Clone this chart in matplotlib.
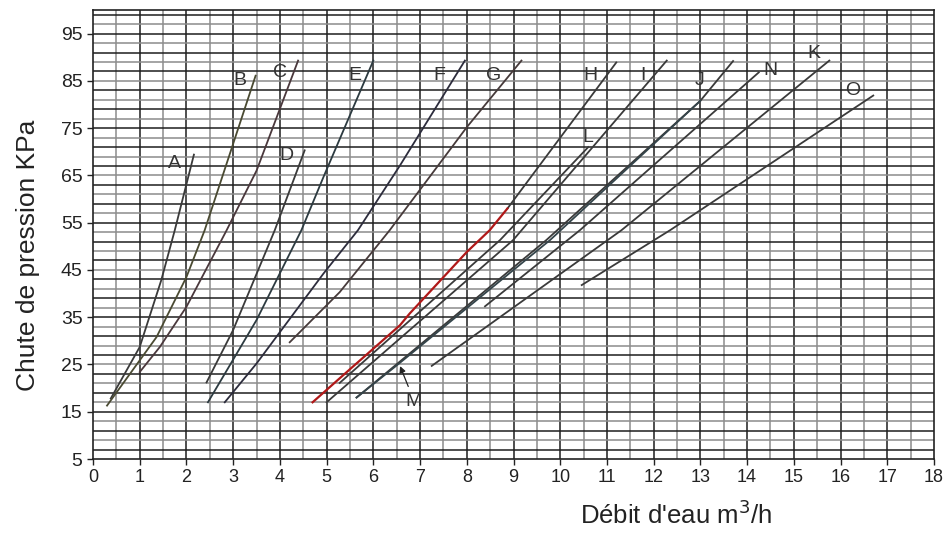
import numpy as np
import matplotlib.pyplot as plt

plt.rcParams['font.family'] = ['Liberation Sans', 'DejaVu Sans']

# courbes (débit m3/h, chute de pression kPa)
courbes = {
    "A": ([0.38, 1.0, 1.46, 1.75, 2.16], [17.8, 28.7, 42.8, 53.4, 69.4]),
    "B": ([0.30, 1.36, 2.0, 2.39, 3.0, 3.48], [16.3, 30.8, 43.5, 53.4, 71.7, 86.1]),
    "C": ([1.0, 1.43, 2.0, 2.86, 3.5, 4.39], [23.4, 28.7, 37.2, 53.4, 66.0, 89.3]),
    "D": ([2.43, 3.0, 3.89, 4.53], [21.2, 32.3, 53.4, 70.3]),
    "E": ([2.46, 3.5, 4.46, 4.93, 6.0], [17.0, 34.4, 53.4, 64.6, 89.3]),
    "F": ([2.82, 3.5, 4.93, 5.67, 6.57, 7.96], [17.0, 25.2, 44.2, 53.4, 67.1, 89.3]),
    "G": ([4.21, 5.28, 6.35, 8.0, 9.17], [29.7, 40.3, 53.4, 75.2, 89.3]),
    "H": ([8.87, 11.2], [58.0, 88.9]),
    "I": ([5.0, 8.99, 12.28], [17.0, 51.3, 89.3]),
    "J": ([5.64, 9.70, 13.0, 13.7], [18.0, 51.3, 80.8, 89.2]),
    "K": ([7.25, 11.31, 15.76], [24.7, 53.4, 89.3]),
    "L": ([5.28, 8.71, 10.6], [21.1, 51.3, 71.0]),
    "M": ([5.64, 6.55, 9.78, 13.0], [18.0, 25.2, 51.3, 80.8]),
    "N": ([8.39, 10.42, 14.25], [37.3, 53.4, 86.8]),
    "O": ([10.46, 12.35, 16.7], [41.8, 53.4, 81.9]),
}
# teinte légère de chaque trait (scan d'origine)
teintes = {"B": "#4a4a32", "C": "#4a383c", "E": "#2c3a40", "F": "#2c2c3c",
           "G": "#463a3a", "M": "#34444a"}
# partie rouge de la courbe H
h_rouge_x = [4.70, 5.5, 6.57, 6.78, 8.0, 8.49, 8.87]
h_rouge_y = [17.0, 24.0, 33.3, 35.8, 48.8, 53.4, 58.0]

# position des lettres
lettres = {
    "A": (1.75, 67.5), "B": (3.14, 85.1), "C": (4.0, 86.8), "D": (4.14, 69.2),
    "E": (5.6, 86.1), "F": (7.42, 86.1), "G": (8.57, 86.1), "H": (10.64, 86.1),
    "I": (11.76, 86.1), "J": (12.99, 85.1), "K": (15.42, 90.7), "L": (10.6, 73.1),
    "N": (14.49, 87.2), "O": (16.25, 83.0), "M": (6.85, 17.1),
}

fig = plt.figure(figsize=(9.51, 5.46), dpi=100)
ax = fig.add_axes([93 / 951, 87 / 546, 841 / 951, 449 / 546])

# quadrillage
for i, xv in enumerate(np.arange(0.5, 18, 0.5)):
    c = "#1e1e1e" if i % 2 == 1 else "#8c8c8c"
    ax.axvline(xv, color=c, lw=1.1, zorder=1)
for i, yv in enumerate(np.arange(7, 100, 2)):
    c = "#1e1e1e" if i % 2 == 0 else "#8c8c8c"
    ax.axhline(yv, color=c, lw=1.1, zorder=1)

for nom, (xs, ys) in courbes.items():
    ax.plot(xs, ys, color=teintes.get(nom, "#3a3a3a"), lw=1.3, zorder=3)
ax.plot(h_rouge_x, h_rouge_y, color="#b01818", lw=1.6, zorder=4)

for nom, (xt, yt) in lettres.items():
    ax.text(xt, yt, nom, fontsize=14, color="#333333", ha="center", va="center", zorder=5)

ax.annotate("", xy=(6.55, 25.2), xytext=(6.77, 19.8),
            arrowprops=dict(arrowstyle="-|>", color="#222222", lw=0.9, mutation_scale=9), zorder=5)

ax.set_xlim(0, 18)
ax.set_ylim(5, 100)
ax.set_xticks(np.arange(0, 19, 1))
ax.set_yticks(np.arange(5, 100, 10))
ax.tick_params(axis="both", length=4, width=1, colors="#222222", direction="out")
ax.tick_params(axis="x", labelsize=13)
ax.tick_params(axis="y", labelsize=14)
for s in ax.spines.values():
    s.set_color("#222222")
    s.set_linewidth(1.2)

fig.text(676 / 951, 1 - 515 / 546, "Débit d'eau m$^3$/h", fontsize=18.5, ha="center", va="center", color="#222222")
fig.text(28 / 951, 1 - 255 / 546, "Chute de pression KPa", fontsize=19, rotation=90, ha="center", va="center", color="#222222")

fig.savefig("out.png", dpi=100)
